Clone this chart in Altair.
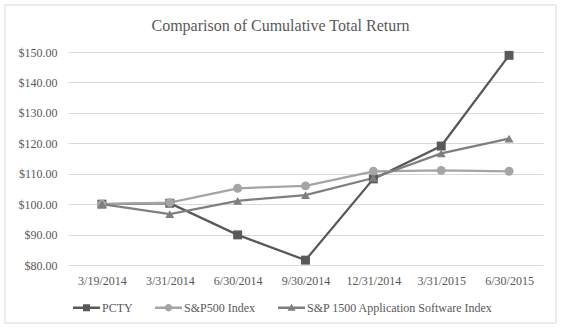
import altair as alt
import pandas as pd

dates = ["3/19/2014", "3/31/2014", "6/30/2014", "9/30/2014",
         "12/31/2014", "3/31/2015", "6/30/2015"]
series_names = ["PCTY", "S&P500 Index", "S&P 1500 Application Software Index"]
pcty = [100.0, 100.3, 89.9, 81.6, 108.3, 119.1, 148.9]
sp500 = [100.0, 100.5, 105.2, 106.0, 110.8, 111.1, 110.8]
app_sw = [100.0, 96.7, 101.1, 103.0, 108.6, 116.7, 121.5]
y_ticks = [80, 90, 100, 110, 120, 130, 140, 150]

colors = ["#595959", "#a5a5a5", "#7f7f7f"]
shapes = ["square", "circle", "triangle-up"]

rows = []
for name, vals in zip(series_names, [pcty, sp500, app_sw]):
    for d, v in zip(dates, vals):
        rows.append({"date": d, "value": v, "series": name})
df = pd.DataFrame(rows)

FONT = "Liberation Serif"
TXT = "#595959"

line_part = "M-1,-0.09 H1 V0.09 H-1 Z "
p_square = line_part + "M-0.26,-0.26 H0.26 V0.26 H-0.26 Z"
p_circle = line_part + "M0.27,0 A0.27,0.27 0 1,1 -0.27,0 A0.27,0.27 0 1,1 0.27,0 Z"
p_tri = line_part + "M0,-0.3 L0.3,0.22 L-0.3,0.22 Z"
legend_shapes = [p_square, p_circle, p_tri]

legend = alt.Legend(
    title=None, orient="none", direction="horizontal",
    legendX=5, legendY=242,
    labelFont=FONT, labelFontSize=12, labelColor=TXT, labelLimit=400,
    symbolSize=729, labelOffset=2, columnPadding=22, padding=0,
    symbolOpacity=1, symbolStrokeWidth=0,
)

cscale = alt.Scale(domain=series_names, range=colors)

x = alt.X("date:N", sort=dates, scale=alt.Scale(domain=dates, paddingInner=0, paddingOuter=0),
          axis=alt.Axis(title=None, labelAngle=0, ticks=False, tickSize=0, domain=False,
                        grid=False, labelPadding=10, labelFont=FONT, labelFontSize=12,
                        labelColor=TXT))
y = alt.Y("value:Q", scale=alt.Scale(domain=[80, 150], nice=False, zero=False),
          axis=alt.Axis(title=None, values=y_ticks, format="$.2f", ticks=False, tickSize=0,
                        domain=False, grid=True, gridColor="#d9d9d9", gridWidth=1,
                        labelPadding=11, labelFont=FONT, labelFontSize=12,
                        labelColor=TXT))

base = alt.Chart(df)
series_layers = []
for name, col, shp in zip(series_names, colors, shapes):
    sub = base.transform_filter(alt.datum.series == name)
    series_layers.append(sub.mark_line(strokeWidth=2.25, color=col).encode(x=x, y=y))
for name, col, shp in zip(series_names, colors, shapes):
    sub = base.transform_filter(alt.datum.series == name)
    series_layers.append(
        sub.mark_point(filled=True, size=80, opacity=1, shape=shp, color=col).encode(x=x, y=y)
    )

legend_layer = base.mark_point(filled=True, size=729, opacity=0).encode(
    x=x, y=y, color=alt.Color("series:N", scale=cscale, legend=legend),
    shape=alt.Shape("series:N", scale=alt.Scale(domain=series_names, range=legend_shapes),
                    legend=legend),
)

border = alt.Chart(pd.DataFrame({"a": [0]})).mark_rect(
    fill=None, stroke="#d9d9d9", strokeWidth=1
).encode(x=alt.value(-63), x2=alt.value(488), y=alt.value(-47), y2=alt.value(271))

chart = alt.layer(border, *series_layers, legend_layer).properties(
    width=475, height=213,
    title=alt.TitleParams("Comparison of Cumulative Total Return", font=FONT, fontSize=16,
                          fontWeight="normal", color=TXT, anchor="middle", dx=-25,
                          baseline="alphabetic", offset=-42.5, frame="group"),
    autosize=alt.AutoSizeParams(type="none"),
    padding={"left": 68, "top": 52, "right": 19, "bottom": 66},
    background="white",
).configure_view(stroke=None)

chart.save("out.html", embed_options={"renderer": "svg", "actions": False})
